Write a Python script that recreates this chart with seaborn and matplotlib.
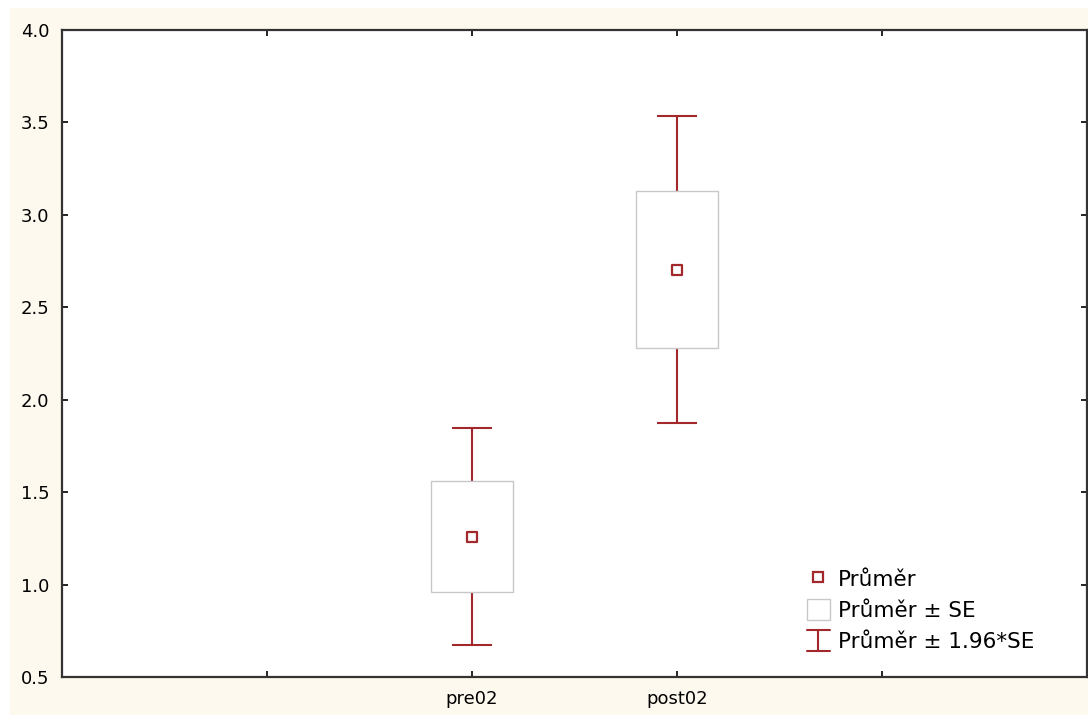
import numpy as np
import pandas as pd
import matplotlib
matplotlib.use("Agg")
import matplotlib.pyplot as plt
from matplotlib.patches import Patch, Rectangle
from matplotlib.lines import Line2D
import seaborn as sns

# values (Statistica-style mean / SE plot)
groups = ["pre02", "post02"]
means = [1.258, 2.702]
se_low = [0.961, 2.280]
se_high = [1.561, 3.129]
ci_low = [0.674, 1.872]
ci_high = [1.846, 3.535]

df = pd.DataFrame({"group": groups, "mean": means})

sns.set_style("ticks")
plt.rcParams["font.family"] = ["DejaVu Sans"]

red = "#a3282c"
cream = "#fdf9ee"


class IBarHandler:
    # legend handle shaped like a whisker with caps
    def legend_artist(self, legend, orig_handle, fontsize, handlebox):
        x0, y0 = -handlebox.xdescent, -handlebox.ydescent
        w, h = handlebox.width, handlebox.height
        cx = x0 + w / 2
        segs = [([cx, cx], [y0, y0 + h]),
                ([x0, x0 + w], [y0, y0]),
                ([x0, x0 + w], [y0 + h, y0 + h])]
        out = []
        for xs, ys in segs:
            ln = Line2D(xs, ys, color=red, linewidth=1.5,
                        transform=handlebox.get_transform())
            handlebox.add_artist(ln)
            out.append(ln)
        return out[0]


fig = plt.figure(figsize=(10.88, 7.15), dpi=100)
fig.patch.set_facecolor("white")
fig.patches.append(Rectangle((10 / 1088, 0), 1, (715 - 8) / 715,
                             transform=fig.transFigure, facecolor=cream,
                             edgecolor="none", zorder=-10))
ax = fig.add_axes([62 / 1088, 38 / 715, 1025 / 1088, 647 / 715])
ax.set_facecolor("white")

# whiskers: mean +/- 1.96*SE
yerr = [np.array(means) - np.array(ci_low), np.array(ci_high) - np.array(means)]
ax.errorbar(groups, means, yerr=yerr, fmt="none", ecolor=red, elinewidth=1.5,
            capsize=14.4, capthick=1.5, zorder=1)

# boxes: mean +/- SE
ax.bar(groups, np.array(se_high) - np.array(se_low), bottom=se_low, width=0.4,
       facecolor="white", edgecolor="#c8c8c8", linewidth=1.0, zorder=2)

# mean markers
sns.scatterplot(data=df, x="group", y="mean", marker="s", s=55,
                facecolor="white", edgecolor=red, linewidth=1.6,
                zorder=3, ax=ax, legend=False)

ax.set_xlim(-2, 3)
ax.set_ylim(0.5, 4.0)
ax.set_xticks([-1, 0, 1, 2])
ax.set_xticklabels(["", "pre02", "post02", ""])
ax.set_yticks(np.arange(0.5, 4.01, 0.5))
ax.set_yticklabels([f"{v:.1f}" for v in np.arange(0.5, 4.01, 0.5)])
ax.set_xlabel("")
ax.set_ylabel("")
ax.tick_params(direction="in", top=True, right=True, length=4, width=1.2,
               labelsize=13, colors="black")
ax.tick_params(axis="y", pad=9)
ax.tick_params(axis="x", pad=9)
for sp in ax.spines.values():
    sp.set_visible(True)
    sp.set_color("#333333")
    sp.set_linewidth(1.6)

mean_handle = Line2D([], [], marker="s", linestyle="none", markersize=6.5,
                     markerfacecolor="white", markeredgecolor=red,
                     markeredgewidth=1.6)
se_handle = Patch(facecolor="white", edgecolor="#c8c8c8", linewidth=1.0)
ci_handle = Line2D([], [], color=red)
labels = ["Průměr", "Průměr ± SE", "Průměr ± 1.96*SE"]
ax.legend([mean_handle, se_handle, ci_handle], labels,
          handler_map={ci_handle: IBarHandler()},
          loc="upper left", bbox_to_anchor=(0.718, 0.181), borderaxespad=0,
          frameon=False, fontsize=15.5, handlelength=1.1, handleheight=1.1,
          handletextpad=0.35, labelspacing=0.42, labelcolor="black")

fig.savefig("out.png", dpi=100, facecolor=fig.get_facecolor())
